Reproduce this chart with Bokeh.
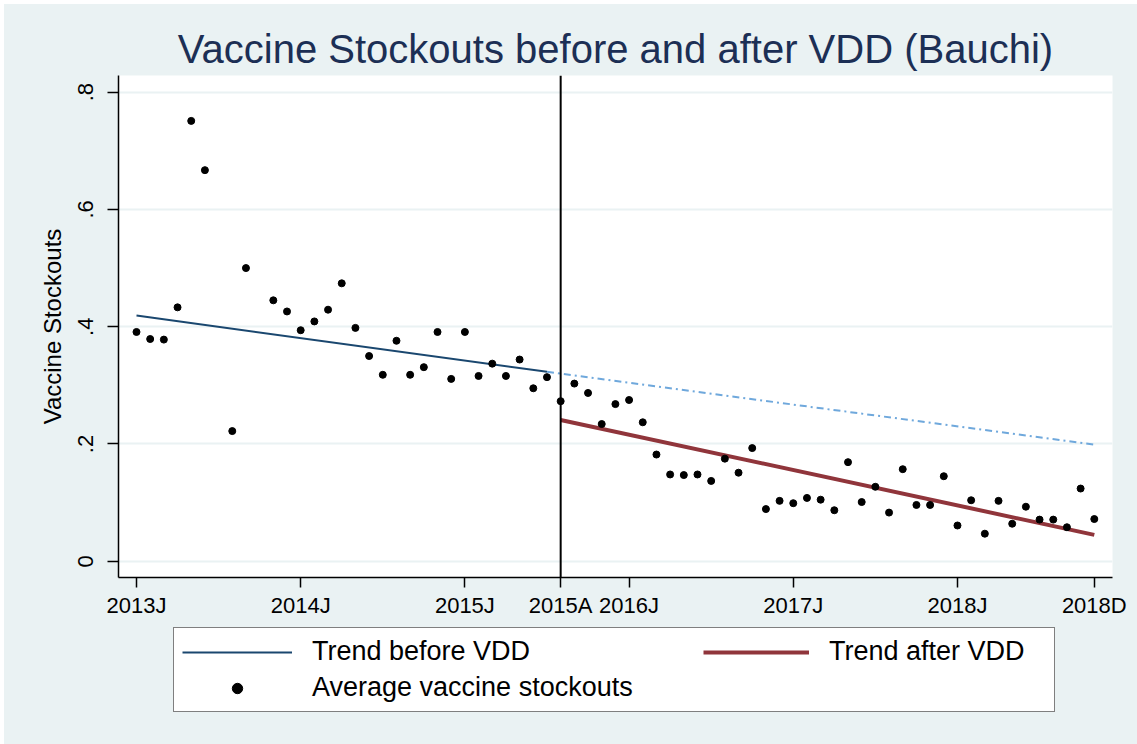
from bokeh.plotting import figure
from bokeh.layouts import column
from bokeh.models import FixedTicker, Span, Legend, LegendItem, Range1d
from bokeh.embed import file_html
from bokeh.resources import INLINE

nan = float("nan")

# month index 0 = 2013 January
month_index = list(range(71))
stockouts = [
    0.391, 0.379, 0.378, 0.433, 0.751, 0.667, nan, 0.222, 0.500, nan,
    0.445, 0.426, 0.394, 0.409, 0.429, 0.474, 0.398, 0.350, 0.318, 0.376,
    0.318, 0.331, 0.391, 0.311, 0.391, 0.316, 0.337, 0.316, 0.344, 0.295,
    0.314, 0.273, 0.303, 0.287, 0.234, 0.268, 0.275, 0.237, 0.182, 0.148,
    0.147, 0.148, 0.137, 0.175, 0.151, 0.193, 0.089, 0.103, 0.099, 0.108,
    0.105, 0.087, 0.169, 0.101, 0.127, 0.083, 0.157, 0.096, 0.096, 0.145,
    0.061, 0.104, 0.047, 0.103, 0.064, 0.093, 0.071, 0.071, 0.058, 0.124,
    0.072,
]

x_tick_positions = [0, 12, 24, 31, 36, 48, 60, 70]
x_tick_labels = ["2013J", "2014J", "2015J", "2015A", "2016J", "2017J", "2018J", "2018D"]
y_tick_positions = [0, 0.2, 0.4, 0.6, 0.8]
y_tick_labels = ["0", ".2", ".4", ".6", ".8"]

vdd_month = 31
trend_before_x = [0, 30]
trend_before_y = [0.419, 0.323]
trend_proj_x = [30, 70]
trend_proj_y = [0.323, 0.199]
trend_after_x = [31, 70]
trend_after_y = [0.241, 0.045]

legend_labels = ["Trend before VDD", "Trend after VDD", "Average vaccine stockouts"]

BG = "#EAF2F3"
FONT = "Liberation Sans"
C_BEFORE = "#1a476f"
C_PROJ = "#6fa8dc"
C_AFTER = "#90353b"

p = figure(
    width=1133, height=616,
    x_range=Range1d(-1.315, 71.33), y_range=Range1d(-0.0277, 0.8284),
    output_backend="svg", toolbar_location=None,
    min_border_left=114, min_border_right=25, min_border_top=71, min_border_bottom=42,
    border_fill_color=BG, background_fill_color="white",
)
p.outline_line_color = None

p.title.text = "Vaccine Stockouts before and after VDD (Bauchi)"
p.title.align = "center"
p.title.text_font = FONT
p.title.text_font_size = "40px"
p.title.text_font_style = "normal"
p.title.text_color = "#1c2f55"

# grid
p.xgrid.visible = False
p.ygrid.ticker = FixedTicker(ticks=y_tick_positions)
p.ygrid.grid_line_color = BG
p.ygrid.grid_line_width = 2

# axes
for ax in (p.xaxis[0], p.yaxis[0]):
    ax.axis_line_color = "black"
    ax.axis_line_width = 1.5
    ax.major_tick_line_color = "black"
    ax.major_tick_line_width = 1.5
    ax.major_tick_out = 10
    ax.major_tick_in = 0
    ax.minor_tick_line_color = None
    ax.major_label_text_font = FONT
    ax.major_label_text_color = "black"
    ax.axis_label_text_font = FONT
    ax.axis_label_text_font_style = "normal"
    ax.axis_label_text_color = "black"

p.xaxis.ticker = FixedTicker(ticks=x_tick_positions)
p.xaxis.major_label_overrides = {k: v for k, v in zip(x_tick_positions, x_tick_labels)}
p.xaxis.major_label_text_font_size = "22px"
p.xaxis.major_label_standoff = 5

p.yaxis.ticker = FixedTicker(ticks=y_tick_positions)
p.yaxis.major_label_overrides = {k: v for k, v in zip(y_tick_positions, y_tick_labels)}
p.yaxis.major_label_text_font_size = "22px"
p.yaxis.major_label_orientation = "vertical"
p.yaxis.major_label_standoff = 14
p.yaxis.major_tick_out = 11
p.yaxis.axis_label = "Vaccine Stockouts"
p.yaxis.axis_label_text_font_size = "24px"
p.yaxis.axis_label_standoff = 10

# data
p.line(trend_before_x, trend_before_y, line_color=C_BEFORE, line_width=2)
p.line(trend_proj_x, trend_proj_y, line_color=C_PROJ, line_width=2, line_dash="7 4 2 4")
p.line(trend_after_x, trend_after_y, line_color=C_AFTER, line_width=4)
p.scatter(month_index, stockouts, size=7, fill_color="black", line_color="black")

p.add_layout(Span(location=vdd_month, dimension="height", line_color="black", line_width=2))

# legend panel (separate figure below so the box is not clipped by the plot frame)
p2 = figure(
    width=1133, height=124,
    x_range=Range1d(0, 1), y_range=Range1d(0, 1),
    output_backend="svg", toolbar_location=None,
    x_axis_type=None, y_axis_type=None,
    min_border=0, border_fill_color=BG, background_fill_color=None,
)
p2.outline_line_color = None
p2.grid.visible = False
# legend-only renderers (NaN: nothing is drawn in the panel itself)
lg_before = p2.line([nan], [nan], line_color=C_BEFORE, line_width=2)
lg_after = p2.line([nan], [nan], line_color=C_AFTER, line_width=4)
lg_pts = p2.scatter([nan], [nan], size=5, fill_color="black", line_color="black")

legend_a = Legend(
    items=[LegendItem(label=legend_labels[0], renderers=[lg_before]),
           LegendItem(label=legend_labels[2], renderers=[lg_pts])],
    location=(55, 32), orientation="vertical",
    padding=8, spacing=5, margin=0,
    glyph_width=110, glyph_height=26, label_height=26, label_standoff=20, label_width=734,
    label_text_font=FONT, label_text_font_size="27px", label_text_color="black",
    border_line_color="black", border_line_width=1,
    background_fill_color="white", background_fill_alpha=1.0,
)
legend_b = Legend(
    items=[LegendItem(label=legend_labels[1], renderers=[lg_after])],
    location=(585, 77), orientation="vertical",
    padding=0, spacing=0, margin=0,
    glyph_width=106, glyph_height=26, label_height=26, label_standoff=20,
    label_text_font=FONT, label_text_font_size="27px", label_text_color="black",
    border_line_color=None, background_fill_alpha=0.0,
)
p2.add_layout(legend_a, "center")
p2.add_layout(legend_b, "center")

layout = column(p, p2, spacing=0)
layout.margin = (4, 0, 0, 4)
layout.styles = {"background-color": BG}

open("out.html", "w").write(file_html(layout, INLINE))
